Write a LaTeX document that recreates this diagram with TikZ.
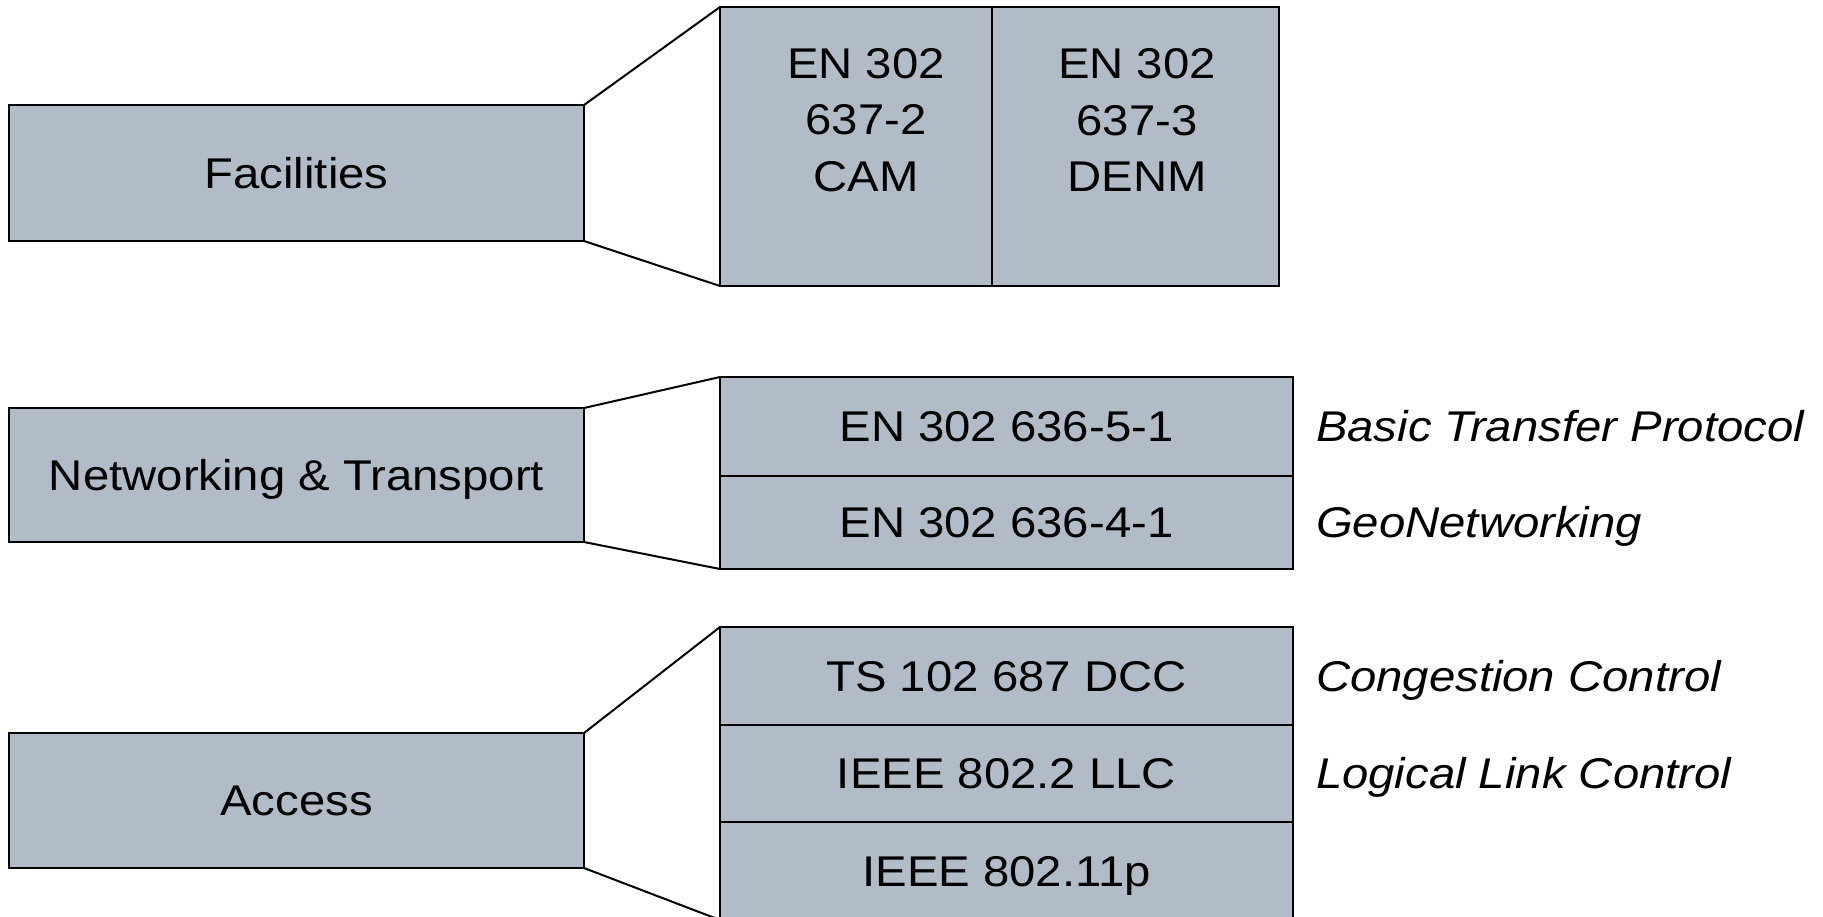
\documentclass[tikz,border=0pt]{standalone}
\usepackage{fontspec}
\setmainfont{Liberation Sans}[FakeStretch=1.1]
\usetikzlibrary{positioning}
\definecolor{layerfill}{RGB}{178,188,200}

\tikzset{every picture/.style={line width=1pt}}
\tikzset{
	layer/.style={draw, fill=layerfill, inner sep=0pt, outer sep=0pt, text height=15.4pt, text depth=0pt},
	side/.style={font=\fontsize{21.5pt}{28.2pt}\selectfont\itshape, inner sep=0pt, outer sep=0pt, text height=15.4pt, text depth=0pt},
}

\begin{document}
\begin{tikzpicture}[x=0.5pt,y=0.5pt,yscale=-1,font=\fontsize{21.5pt}{28.2pt}\selectfont]
	\useasboundingbox (0,0) rectangle (1823,916);

	%Shape: Rectangle [Facilities]
	\node [layer, minimum width=287.5pt, minimum height=68pt] (fac) at (296.5,173) {Facilities};
	\node [layer, anchor=north west, minimum width=136pt, minimum height=139.5pt] (cam) at (720,7) {};
	\node [layer, right=0pt of cam, minimum width=143.5pt, minimum height=139.5pt] (denm) {};
	% Text Node
	\node [align=center] (camtxt) at (866,120) {EN 302\\637-2\\CAM};
	% Text Node
	\node [align=center] (denmtxt) at (1137,120) {EN 302\\637-3\\DENM};
	%Straight Lines
	\draw (fac.north east) -- (cam.north west);
	\draw (fac.south east) -- (cam.south west);

	%Shape: Rectangle [Networking & Transport]
	\node [layer, minimum width=287.5pt, minimum height=67pt] (net) at (296.5,475) {Networking \& Transport};
	\node [layer, anchor=north west, minimum width=286.5pt, minimum height=49.5pt] (btp) at (720,377) {EN 302 636-5-1};
	\node [layer, below=0pt of btp, minimum width=286.5pt, minimum height=46.5pt] (gn) {EN 302 636-4-1};
	% Text Node
	\node [side, right=11.5pt of btp] (btplbl) {Basic Transfer Protocol};
	\node [side, right=11.5pt of gn] (gnlbl) {GeoNetworking};
	%Straight Lines
	\draw (net.north east) -- (btp.north west);
	\draw (net.south east) -- (gn.south west);

	%Shape: Rectangle [Access]
	\node [layer, minimum width=287.5pt, minimum height=67.5pt] (acc) at (296.5,800.5) {Access};
	\node [layer, anchor=north west, minimum width=286.5pt, minimum height=49pt] (dcc) at (720,627) {TS 102 687 DCC};
	\node [layer, below=0pt of dcc, minimum width=286.5pt, minimum height=48.5pt] (llc) {IEEE 802.2 LLC};
	\node [layer, below=0pt of llc, minimum width=286.5pt, minimum height=49pt] (phy) {IEEE 802.11p};
	% Text Node
	\node [side, right=11.5pt of dcc] (dcclbl) {Congestion Control};
	\node [side, right=11.5pt of llc] (llclbl) {Logical Link Control};
	%Straight Lines
	\draw (acc.north east) -- (dcc.north west);
	\draw (acc.south east) -- (phy.south west);

\end{tikzpicture}
\end{document}
